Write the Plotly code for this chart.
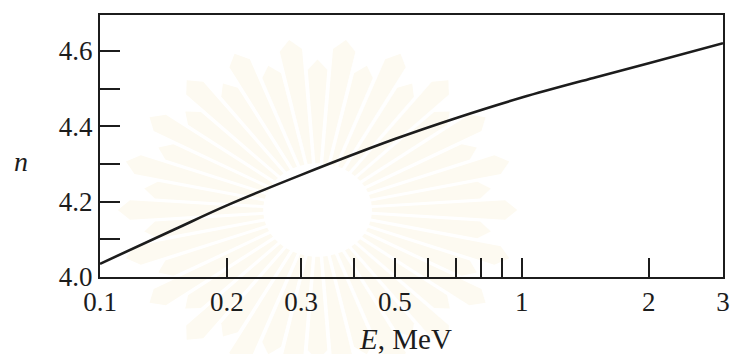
import math
import plotly.graph_objects as go

# Index n versus photon energy E (MeV)
energy_mev = [0.1, 0.15, 0.2, 0.3, 0.5, 0.7, 1.0, 1.5, 2.0, 3.0]
n_values = [4.035, 4.126, 4.19, 4.271, 4.366, 4.422, 4.476, 4.53, 4.567, 4.62]

x_tick_vals = [0.1, 0.2, 0.3, 0.4, 0.5, 0.6, 0.7, 0.8, 0.9, 1, 2, 3]
x_tick_text = ["0.1", "0.2", "0.3", "", "0.5", "", "", "", "", "1", "2", "3"]
y_tick_vals = [4.0, 4.1, 4.2, 4.3, 4.4, 4.5, 4.6]
y_tick_text = ["4.0", "", "4.2", "", "4.4", "", "4.6"]

ink = "#1c1c1c"
serif = "Liberation Serif, Times New Roman, serif"

W, H = 736, 354
L, R, T, B = 100, 6, 15, 77
pw, ph = W - L - R, H - T - B


def to_paper(px, py):
    return (px - L) / pw, 1 - (py - T) / ph


fig = go.Figure()
fig.add_trace(go.Scatter(
    x=energy_mev, y=n_values, mode="lines",
    line=dict(color=ink, width=2.6, shape="spline", smoothing=1.0),
    hoverinfo="skip", showlegend=False,
))

# very faint sunburst emblem printed behind the graph
shapes = []
cx, cy = 320, 210
n_rays = 44
for k in range(n_rays):
    a = 2 * math.pi * k / n_rays
    r0 = 55
    r1 = (190 if k % 2 == 0 else 165)
    ry = 0.85
    pts = []
    for ang, rad in [(a - 0.04, r0), (a - 0.06, r1), (a, r1 + 12), (a + 0.06, r1), (a + 0.04, r0)]:
        px = cx + rad * math.cos(ang)
        py = cy - rad * ry * math.sin(ang)
        pts.append(to_paper(px, py))
    path = "M " + " L ".join(f"{x:.4f},{y:.4f}" for x, y in pts) + " Z"
    shapes.append(dict(type="path", path=path, xref="paper", yref="paper",
                       fillcolor="#fdfaf1", line=dict(width=0), layer="below"))

fig.update_xaxes(
    type="log", range=[-1, math.log10(3)],
    tickmode="array", tickvals=x_tick_vals, ticktext=x_tick_text,
    ticks="inside", ticklen=19, tickwidth=1.5, tickcolor=ink,
    showline=True, linecolor=ink, linewidth=2, mirror=True,
    showgrid=False, zeroline=False,
    tickfont=dict(family=serif, size=27, color=ink),
)
fig.update_yaxes(
    range=[4.0, 4.695],
    tickmode="array", tickvals=y_tick_vals, ticktext=y_tick_text,
    ticks="inside", ticklen=20, tickwidth=1.5, tickcolor=ink,
    showline=True, linecolor=ink, linewidth=2, mirror=True,
    showgrid=False, zeroline=False,
    tickfont=dict(family=serif, size=27, color=ink),
)

for text, px, py, size in [("<i>E</i>, MeV", 409, 339, 29), ("<i>n</i>", 20, 161, 28)]:
    ax, ay = to_paper(px, py)
    fig.add_annotation(
        text=text, x=ax, y=ay, xref="paper", yref="paper",
        xanchor="center", yanchor="middle", showarrow=False,
        font=dict(family=serif, size=size, color=ink),
    )

fig.update_layout(
    width=W, height=H,
    margin=dict(l=L, r=R, t=T, b=B),
    paper_bgcolor="white", plot_bgcolor="rgba(0,0,0,0)",
    shapes=shapes,
)

fig.write_html("out.html")
